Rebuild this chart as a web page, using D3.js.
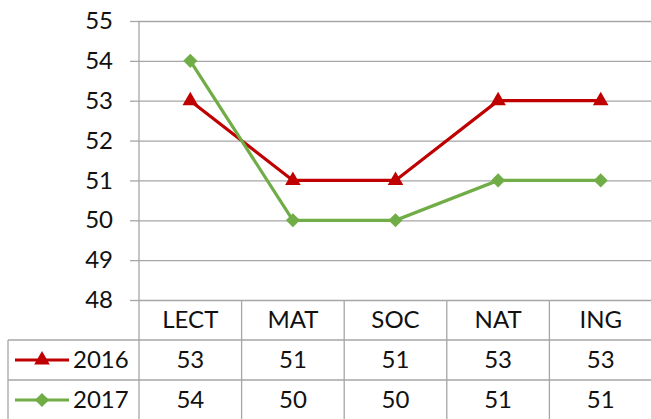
<!DOCTYPE html>
<html>
<head>
<meta charset="utf-8">
<script src="https://cdn.jsdelivr.net/npm/d3@7"></script>
<style>
  body { margin: 0; background: #fff; }
  svg text { font-family: Lato, "Open Sans", sans-serif; fill: #111; }
</style>
</head>
<body>
<svg id="chart" width="651" height="419"></svg>
<script>
const categories = ['LECT', 'MAT', 'SOC', 'NAT', 'ING'];
const years = ['2016', '2017'];
const values2016 = [53, 51, 51, 53, 53];
const values2017 = [54, 50, 50, 51, 51];
const yTicks = [48, 49, 50, 51, 52, 53, 54, 55];

const series = [
  { name: years[0], values: values2016, color: '#C00000', marker: d3.symbolTriangle, size: 105, rot: 0 },
  { name: years[1], values: values2017, color: '#70AD47', marker: d3.symbolSquare, size: 100, rot: 45 }
];

const svg = d3.select('#chart');
const width = +svg.attr('width');
const margin = { top: 21, left: 139, right: 0 };
const plotBottom = 300;
const rowH = 40;
const gridColor = '#a6a6a6';
const fontSize = 24;

const xScale = d3.scaleBand().domain(categories).range([margin.left, width + 1]);
const yScale = d3.scaleLinear().domain([48, 55]).range([plotBottom, margin.top]);

// horizontal gridlines + tick marks
const yAxis = d3.axisLeft(yScale).tickValues(yTicks).tickFormat(d3.format('d'))
  .tickSize(9).tickPadding(17);
const yg = svg.append('g').attr('transform', `translate(${margin.left},0)`).call(yAxis);
yg.select('.domain').remove();
yg.selectAll('line').attr('stroke', gridColor).attr('stroke-width', 1.3);
yg.selectAll('text').attr('font-size', fontSize).style('font-family', 'Lato, sans-serif');
yg.selectAll('.tick').append('line')
  .attr('x1', 0).attr('x2', width - margin.left)
  .attr('stroke', gridColor).attr('stroke-width', 1.3);

// vertical axis line, from top through the table
svg.append('line')
  .attr('x1', margin.left).attr('x2', margin.left)
  .attr('y1', margin.top).attr('y2', 419)
  .attr('stroke', gridColor).attr('stroke-width', 1.3);

// data table grid
const tableLeft = 8;
[1, 2].forEach(i => {
  svg.append('line')
    .attr('x1', tableLeft).attr('x2', width)
    .attr('y1', plotBottom + i * rowH).attr('y2', plotBottom + i * rowH)
    .attr('stroke', gridColor).attr('stroke-width', 1.3);
});
svg.append('line')
  .attr('x1', tableLeft).attr('x2', tableLeft)
  .attr('y1', plotBottom + rowH).attr('y2', 419)
  .attr('stroke', gridColor).attr('stroke-width', 1.3);
categories.slice(1).forEach(c => {
  svg.append('line')
    .attr('x1', xScale(c)).attr('x2', xScale(c))
    .attr('y1', plotBottom).attr('y2', 419)
    .attr('stroke', gridColor).attr('stroke-width', 1.3);
});

// header row (categories)
svg.append('g').selectAll('text').data(categories).enter().append('text')
  .attr('x', d => xScale(d) + xScale.bandwidth() / 2)
  .attr('y', plotBottom + rowH / 2)
  .attr('dy', '0.35em')
  .attr('text-anchor', 'middle')
  .attr('font-size', fontSize)
  .text(d => d);

// lines and markers
const line = d3.line()
  .x((d, i) => xScale(categories[i]) + xScale.bandwidth() / 2)
  .y(d => yScale(d));

series.forEach((s, si) => {
  svg.append('path').datum(s.values)
    .attr('d', line)
    .attr('fill', 'none')
    .attr('stroke', s.color)
    .attr('stroke-width', 3.2);
  svg.append('g').selectAll('path').data(s.values).enter().append('path')
    .attr('d', d3.symbol().type(s.marker).size(s.size))
    .attr('transform', (d, i) => `translate(${xScale(categories[i]) + xScale.bandwidth() / 2},${yScale(d)}) rotate(${s.rot})`)
    .attr('fill', s.color);

  // table row
  const rowY = plotBottom + rowH * (si + 1) + rowH / 2;
  svg.append('line')
    .attr('x1', 15).attr('x2', 69).attr('y1', rowY).attr('y2', rowY)
    .attr('stroke', s.color).attr('stroke-width', 3.2);
  svg.append('path')
    .attr('d', d3.symbol().type(s.marker).size(s.size))
    .attr('transform', `translate(42,${rowY}) rotate(${s.rot})`)
    .attr('fill', s.color);
  svg.append('text')
    .attr('x', 73).attr('y', rowY).attr('dy', '0.35em')
    .attr('font-size', fontSize)
    .text(s.name);
  svg.append('g').selectAll('text').data(s.values).enter().append('text')
    .attr('x', (d, i) => xScale(categories[i]) + xScale.bandwidth() / 2)
    .attr('y', rowY).attr('dy', '0.35em')
    .attr('text-anchor', 'middle')
    .attr('font-size', fontSize)
    .text(d => d);
});
</script>
</body>
</html>
